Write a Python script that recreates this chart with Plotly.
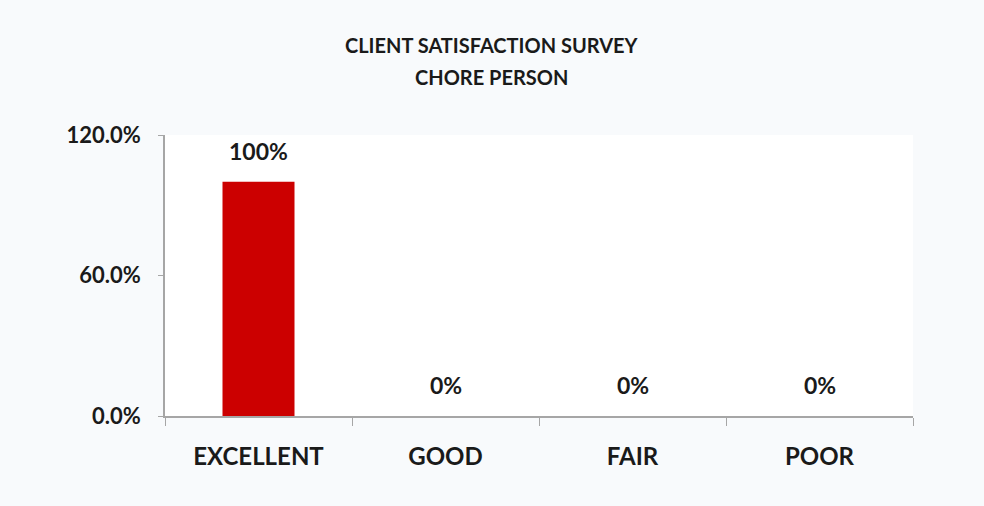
import plotly.graph_objects as go

categories = ["EXCELLENT", "GOOD", "FAIR", "POOR"]
values = [100, 0, 0, 0]
value_labels = ["100%", "0%", "0%", "0%"]
y_ticks = [0, 60, 120]
y_tick_labels = ["0.0%", "60.0%", "120.0%"]
title_lines = ["CLIENT SATISFACTION SURVEY", "CHORE PERSON"]

FONT = "Lato, 'Open Sans', sans-serif"
DARK = "#1a1a1a"

fig = go.Figure(go.Bar(
    x=categories, y=values,
    marker=dict(color="#cc0000", line=dict(width=0)),
    width=0.385,
    hoverinfo="x+y",
))

for c, v, t in zip(categories, values, value_labels):
    fig.add_annotation(
        x=c, y=v, text="<b>%s</b>" % t, showarrow=False,
        yanchor="bottom", yshift=15,
        font=dict(family=FONT, size=23, color=DARK),
    )

# two-line title, placed as centred text above the plot area
for line, ypos in zip(title_lines, [1.32, 1.206]):
    fig.add_annotation(
        text="<b>%s</b>" % line, showarrow=False,
        xref="paper", yref="paper", x=0.437, y=ypos,
        xanchor="center", yanchor="middle",
        font=dict(family=FONT, size=20, color=DARK),
    )

fig.update_layout(
    width=984, height=506,
    margin=dict(l=165, r=71, t=135, b=90),
    paper_bgcolor="#f8fafc", plot_bgcolor="#ffffff",
    showlegend=False,
)
fig.update_xaxes(
    showline=True, linecolor="#a6a6a6", linewidth=1.5,
    ticks="outside", tickson="boundaries", ticklen=8, tickcolor="#a6a6a6",
    tickvals=categories, ticktext=["<b>%s</b>" % c for c in categories],
    tickfont=dict(family=FONT, size=24, color=DARK),
    ticklabelstandoff=18,
    showgrid=False,
)
fig.update_yaxes(
    range=[0, 120], tickvals=y_ticks, ticktext=["<b>%s</b>" % t for t in y_tick_labels],
    showline=True, linecolor="#a6a6a6", linewidth=1.5,
    ticks="outside", ticklen=5, tickcolor="#a6a6a6",
    tickfont=dict(family=FONT, size=22, color=DARK),
    ticklabelstandoff=13,
    showgrid=False, zeroline=False,
)

fig.write_html(
    "out.html",
    config={"displayModeBar": False},
    post_script="document.body.style.margin='0';document.body.style.background='#f8fafc';",
)
